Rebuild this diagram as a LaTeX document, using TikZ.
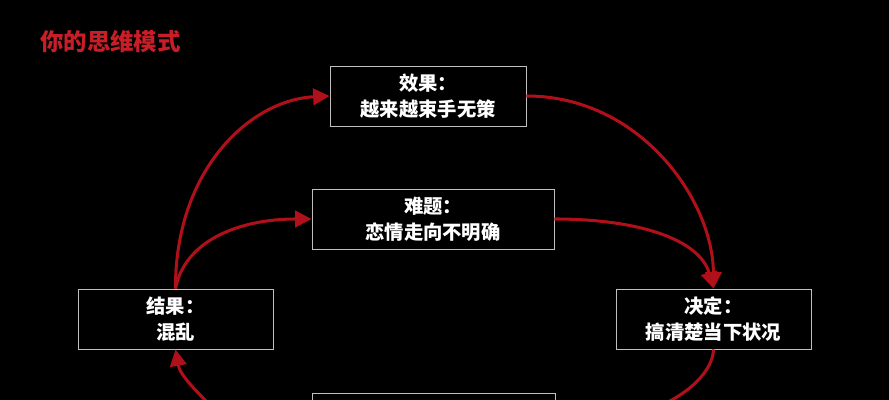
\documentclass[tikz,border=0pt]{standalone}
\usepackage{fontspec}
\setmainfont{Noto Sans CJK SC}
\usetikzlibrary{arrows.meta}
\definecolor{arrowred}{RGB}{176,16,26}
\definecolor{titlered}{RGB}{200,30,40}

\begin{document}
\begin{tikzpicture}[x=0.03cm,y=-0.03cm,
    box/.style={draw=white!75!black,line width=0.8pt,text=white,font=\fontsize{16.5}{22}\selectfont\bfseries,
      align=center,minimum height=1.8cm,inner sep=0pt},
    flow/.style={draw=arrowred,line width=2.6pt,-{Triangle[length=14pt,width=14pt]}}]
    \clip (0,0) rectangle (889,400);
    \fill[black] (0,0) rectangle (889,400);
    \node[text=titlered,font=\fontsize{20}{24}\selectfont\bfseries,anchor=west] (title) at (36,42) {你的思维模式};
    % boxes
    \node[box,minimum width=5.88cm] (effect) at (428,96) {效果：\\越来越束手无策};
    \node[box,minimum width=7.26cm] (problem) at (433,219) {难题：\\恋情走向不明确};
    \node[box,minimum width=5.85cm] (result) at (175.5,319) {结果：\\混乱};
    \node[box,minimum width=5.85cm] (decide) at (713.5,319) {决定：\\搞清楚当下状况};
    \node[box,minimum width=7.29cm,anchor=north] (action) at (433.5,393) {};
    \coordinate (leftfoot) at (215,410);
    \coordinate (rightfoot) at (650,410);
    % arrows
    \draw[flow] (result.north) .. controls (175,170) and (250,100) .. (effect.west);
    \draw[flow] (result.north) .. controls (185,240) and (240,219) .. (problem.west);
    \draw[flow] (effect.east) .. controls (640,96) and (713,200) .. (decide.north);
    \draw[flow] (problem.east) .. controls (640,219) and (700,240) .. (decide.north);
    \draw[draw=arrowred,line width=2.6pt] (decide.south) .. controls (713,370) and (690,395) .. (rightfoot);
    \draw[flow] (leftfoot) .. controls (195,390) and (180,375) .. (result.south);
\end{tikzpicture}
\end{document}
